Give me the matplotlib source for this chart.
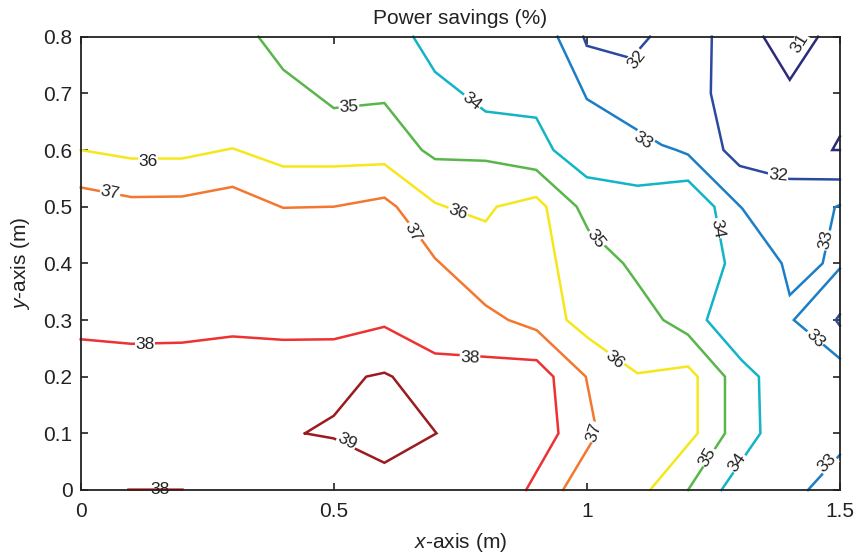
import matplotlib
matplotlib.use("Agg")
import matplotlib.pyplot as plt
import numpy as np

plt.rcParams['font.family'] = ['Liberation Sans', 'DejaVu Sans']
plt.rcParams['mathtext.fontset'] = 'custom'
plt.rcParams['mathtext.it'] = 'Liberation Sans:italic'
plt.rcParams['mathtext.rm'] = 'Liberation Sans'

# Contour levels and colours
levels = [31, 32, 33, 34, 35, 36, 37, 38, 39]
level_colors = {31: '#2c2a7c', 32: '#2b4a9f', 33: '#1b7ec6', 34: '#12b4c6',
                35: '#58b64a', 36: '#f6e71c', 37: '#f4772f', 38: '#ec3232',
                39: '#9b1b20'}

# Contour lines: (level, x values, y values)
c31a_x = [1.349, 1.401, 1.457]
c31a_y = [0.800, 0.724, 0.800]
c31b_x = [1.500, 1.485, 1.500]
c31b_y = [0.624, 0.600, 0.600]

c32a_x = [0.993, 1.000, 1.088, 1.125]
c32a_y = [0.800, 0.784, 0.762, 0.800]
c32b_x = [1.247, 1.245, 1.270, 1.302, 1.400, 1.500]
c32b_y = [0.800, 0.700, 0.600, 0.572, 0.549, 0.548]
c32c_x = [1.500, 1.492, 1.500]
c32c_y = [0.310, 0.300, 0.290]

c33a_x = [0.942, 1.000, 1.148, 1.177, 1.200, 1.307, 1.385, 1.401, 1.466, 1.490, 1.500]
c33a_y = [0.800, 0.690, 0.609, 0.600, 0.592, 0.497, 0.400, 0.344, 0.400, 0.499, 0.503]
c33b_x = [1.500, 1.409, 1.500]
c33b_y = [0.391, 0.300, 0.232]
c33c_x = [1.500, 1.437]
c33c_y = [0.062, 0.000]

c34_x = [0.657, 0.700, 0.800, 0.900, 0.934, 1.000, 1.100, 1.200, 1.252, 1.273,
         1.237, 1.306, 1.340, 1.343, 1.266]
c34_y = [0.800, 0.738, 0.668, 0.657, 0.600, 0.552, 0.537, 0.546, 0.500, 0.400,
         0.300, 0.229, 0.200, 0.100, 0.000]

c35_x = [0.351, 0.400, 0.500, 0.600, 0.674, 0.700, 0.800, 0.900, 0.980, 1.003,
         1.072, 1.100, 1.151, 1.200, 1.273, 1.273, 1.200]
c35_y = [0.800, 0.742, 0.674, 0.683, 0.600, 0.584, 0.581, 0.565, 0.500, 0.459,
         0.400, 0.365, 0.300, 0.274, 0.200, 0.100, 0.000]

c36_x = [0.000, 0.100, 0.200, 0.300, 0.400, 0.500, 0.600, 0.700, 0.800, 0.822,
         0.900, 0.920, 0.960, 1.003, 1.100, 1.200, 1.219, 1.219, 1.125]
c36_y = [0.600, 0.585, 0.585, 0.603, 0.571, 0.571, 0.575, 0.507, 0.474, 0.500,
         0.517, 0.500, 0.300, 0.268, 0.206, 0.218, 0.200, 0.100, 0.000]

c37_x = [0.000, 0.100, 0.200, 0.300, 0.400, 0.500, 0.600, 0.624, 0.674, 0.700,
         0.800, 0.845, 0.901, 0.998, 1.020, 0.953]
c37_y = [0.534, 0.517, 0.518, 0.535, 0.498, 0.500, 0.516, 0.500, 0.441, 0.409,
         0.326, 0.300, 0.282, 0.200, 0.100, 0.000]

c38a_x = [0.000, 0.100, 0.200, 0.300, 0.400, 0.500, 0.600, 0.700, 0.901, 0.934,
          0.944, 0.880]
c38a_y = [0.266, 0.258, 0.260, 0.271, 0.265, 0.266, 0.288, 0.241, 0.229, 0.200,
          0.100, 0.000]
c38b_x = [0.094, 0.200]
c38b_y = [0.002, 0.002]

c39_x = [0.443, 0.500, 0.564, 0.600, 0.616, 0.703, 0.600, 0.500, 0.443]
c39_y = [0.100, 0.131, 0.200, 0.207, 0.200, 0.100, 0.048, 0.091, 0.100]

contours = [
    (31, c31a_x, c31a_y), (31, c31b_x, c31b_y),
    (32, c32a_x, c32a_y), (32, c32b_x, c32b_y), (32, c32c_x, c32c_y),
    (33, c33a_x, c33a_y), (33, c33b_x, c33b_y), (33, c33c_x, c33c_y),
    (34, c34_x, c34_y), (35, c35_x, c35_y), (36, c36_x, c36_y),
    (37, c37_x, c37_y), (38, c38a_x, c38a_y), (38, c38b_x, c38b_y),
    (39, c39_x, c39_y),
]

# Contour labels: value, x, y, rotation
label_vals = [35, 34, 36, 37, 36, 37, 35, 34, 33, 32, 31, 32, 33, 33, 38, 38, 36, 37, 39, 35, 34, 33]
label_x = [0.530, 0.773, 0.133, 0.058, 0.745, 0.656, 1.018, 1.259, 1.111, 1.098, 1.421,
           1.378, 1.472, 1.451, 0.127, 0.769, 1.054, 1.014, 0.526, 1.239, 1.297, 1.474]
label_y = [0.676, 0.686, 0.580, 0.524, 0.490, 0.455, 0.443, 0.462, 0.617, 0.760, 0.788,
           0.556, 0.441, 0.268, 0.256, 0.233, 0.229, 0.102, 0.086, 0.058, 0.049, 0.048]
label_rot = [3, -38, 0, -12, -20, -62, -52, -80, -33, 52, 58,
             -5, 78, -45, 0, -2, -40, 72, -27, 60, 55, 45]

fig = plt.figure(figsize=(8.57, 5.58), dpi=100)
ax = fig.add_axes([0.0942, 0.1219, 0.8858, 0.8123])

for lev, xs, ys in contours:
    ax.plot(xs, ys, color=level_colors[lev], lw=1.8, solid_joinstyle='miter',
            zorder=2, clip_on=False)

for v, x, y, r in zip(label_vals, label_x, label_y, label_rot):
    ax.text(x, y, str(v), fontsize=12.5, rotation=r, rotation_mode='anchor',
            ha='center', va='center', color='#222222', zorder=4,
            bbox=dict(facecolor='white', edgecolor='none', pad=0.5))

# bottom-edge label (drawn over the axis)
ax.text(0.157, 0.0, '38', fontsize=12.5, ha='center', va='center',
        color='#222222', zorder=5, clip_on=False)

ax.set_xlim(0, 1.5)
ax.set_ylim(0, 0.8)
ax.set_xticks([0, 0.5, 1, 1.5])
ax.set_xticklabels(['0', '0.5', '1', '1.5'])
ax.set_yticks(np.arange(0, 0.81, 0.1))
ax.set_yticklabels(['0', '0.1', '0.2', '0.3', '0.4', '0.5', '0.6', '0.7', '0.8'])
ax.tick_params(direction='in', length=5, width=1.2, top=True, right=True,
               labelsize=15, colors='#222222', pad=6)
ax.tick_params(axis='x', pad=9)
for s in ax.spines.values():
    s.set_linewidth(1.3)
    s.set_color('#222222')
    s.set_zorder(3)

ax.set_title('Power savings (%)', fontsize=15, pad=9, color='#222222')
ax.set_xlabel(r'$x$-axis (m)', fontsize=15, color='#222222', labelpad=7)
ax.set_ylabel(r'$y$-axis (m)', fontsize=15, color='#222222', labelpad=8)

fig.savefig('out.png', dpi=100)
